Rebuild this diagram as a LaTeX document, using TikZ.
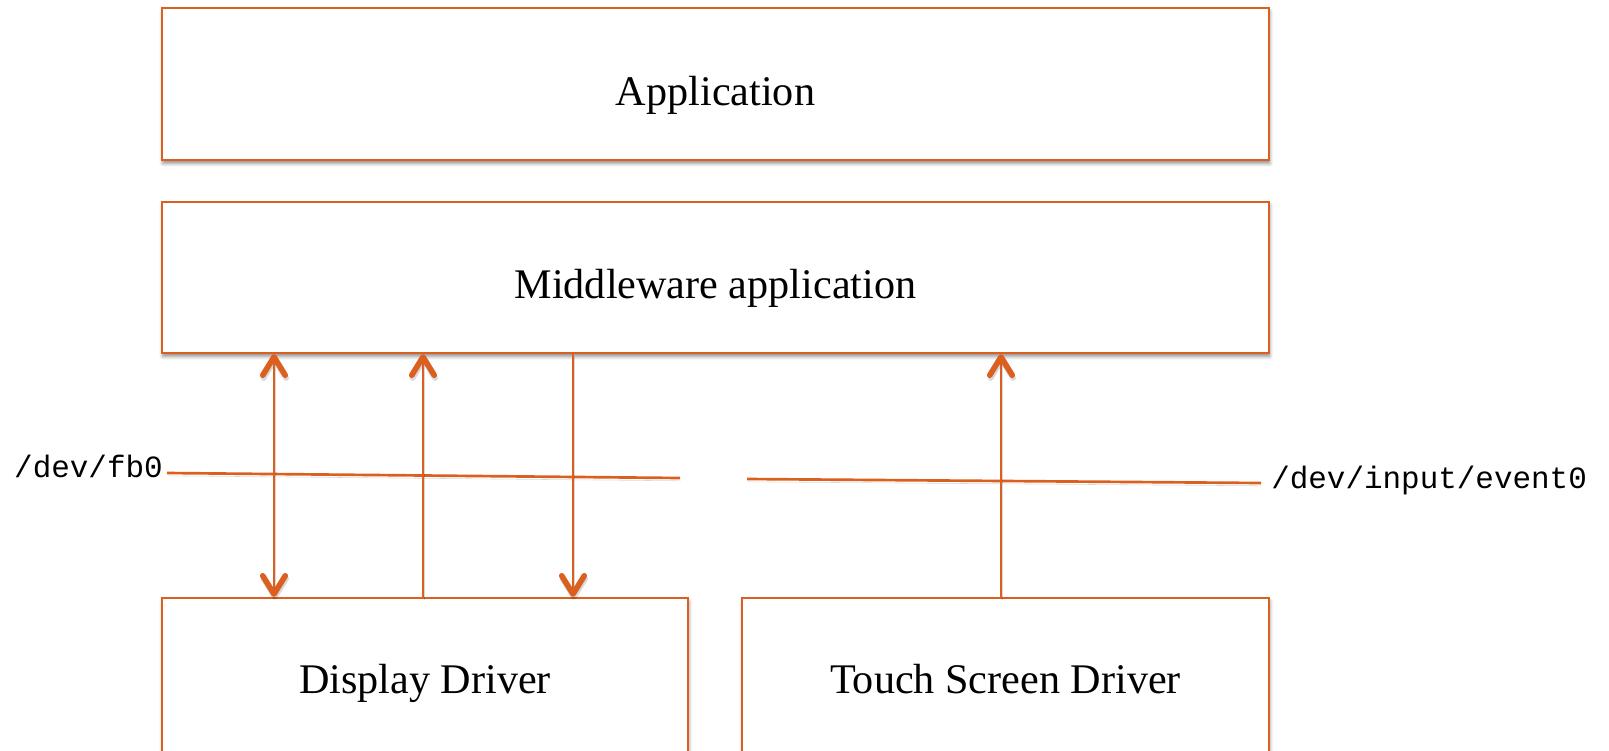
\documentclass[tikz,border=0pt]{standalone}
\usepackage{fontspec}
\setmainfont{Liberation Serif}
\setmonofont{Liberation Mono}
\usetikzlibrary{arrows.meta,shadows.blur}
\definecolor{layerorange}{RGB}{219,96,32}
\tikzset{
  layer/.style={draw=layerorange, line width=1.6pt, fill=white, inner sep=0pt,
    text height=30pt, text depth=0pt, font=\fontsize{30}{36}\selectfont,
    blur shadow={shadow xshift=.6pt, shadow yshift=-2.4pt, shadow blur radius=2.5pt, shadow opacity=45}},
  driver/.style={layer, text depth=11.5pt, minimum height=164*0.025cm},
  devlabel/.style={inner sep=0pt, font=\ttfamily\fontsize{22}{26}\selectfont},
  devline/.style={draw=layerorange, line width=1.9pt,
    preaction={draw=black, opacity=.15, transform canvas={xshift=.6pt, yshift=-2pt}}},
  flowtip/.tip={Straight Barb[length=13pt, width=16pt, line width=4pt, round]},
  flowarrow/.style={devline}
}
\begin{document}
\begin{tikzpicture}[x=0.025cm, y=-0.025cm]
\useasboundingbox (0,0) rectangle (1609,750);
\clip (0,0) rectangle (1609,750);
% layers
\node[layer, minimum width=1107*0.025cm, minimum height=152*0.025cm] (app) at (715.5,84) {Application};
\node[layer, minimum width=1107*0.025cm, minimum height=151*0.025cm] (mid) at (715.5,277.5) {Middleware application};
\node[driver, minimum width=526*0.025cm] (disp) at (425,680) {Display Driver};
\node[driver, minimum width=527*0.025cm] (touch) at (1005.5,680) {Touch Screen Driver};
% device files
\node[devlabel, anchor=base east] (fb) at (163,477) {/dev/fb0};
\node[devlabel, anchor=base west] (ev) at (1271,488) {/dev/input/event0};
\coordinate (fbA) at (167,473);
\coordinate (fbB) at (680,478);
\coordinate (evA) at (747,479);
\coordinate (evB) at (1261,483);
\draw[devline] (fbA) -- (fbB);
\draw[devline] (evA) -- (evB);
% data flow
\draw[flowarrow, flowtip-flowtip] (mid.south -| 274,0) -- (disp.north -| 274,0);
\draw[flowarrow, -flowtip] (disp.north -| 423,0) -- (mid.south -| 423,0);
\draw[flowarrow, -flowtip] (mid.south -| 573,0) -- (disp.north -| 573,0);
\draw[flowarrow, -flowtip] (touch.north -| 1001,0) -- (mid.south -| 1001,0);
\end{tikzpicture}
\end{document}
